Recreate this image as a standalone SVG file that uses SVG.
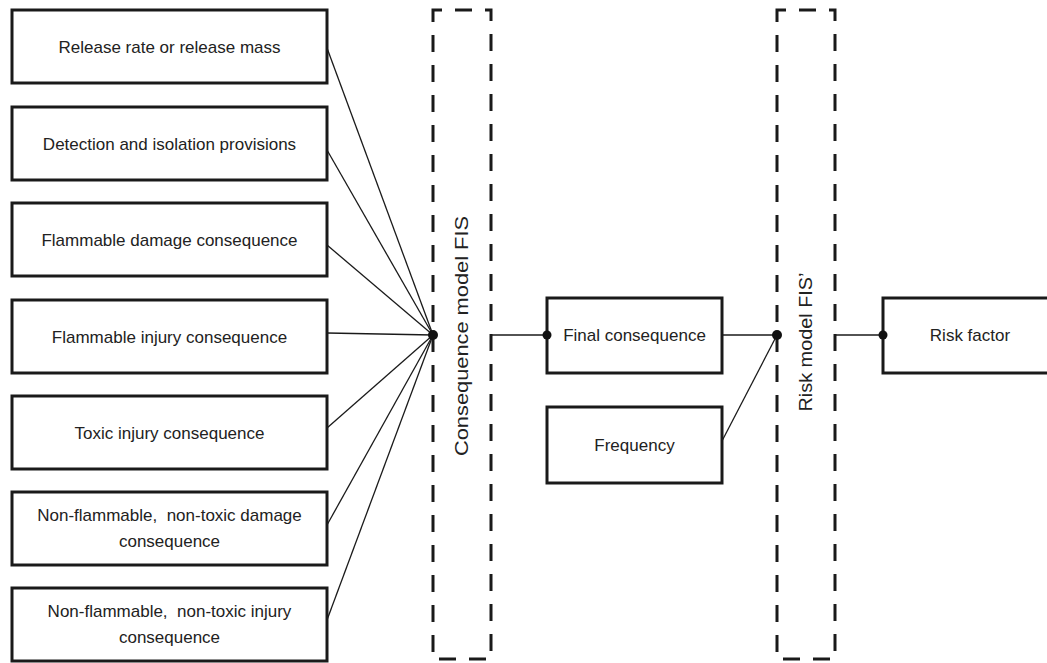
<svg xmlns="http://www.w3.org/2000/svg" width="1047" height="663" viewBox="0 0 1047 663">
  <style>
    .box { fill: #ffffff; stroke: #1a1a1a; stroke-width: 3; }
    .fis { fill: none; stroke: #1a1a1a; stroke-width: 3; stroke-dasharray: 17 13; }
    .lbl { font-family: "Liberation Sans", Arial, sans-serif; font-size: 17px; fill: #222222; text-anchor: middle; white-space: pre; }
    .vlbl { font-family: "Liberation Sans", Arial, sans-serif; font-size: 18px; fill: #222222; text-anchor: middle; }
    .wire { fill: none; stroke: #1a1a1a; stroke-width: 1.3; }
    .dot { fill: #111111; }
  </style>
  <rect width="1047" height="663" fill="#ffffff"/>

  <!-- input factors -->
  <g id="release-rate">
    <rect class="box" x="12" y="10" width="315" height="73"/>
    <text class="lbl" x="169.5" y="53">Release rate or release mass</text>
  </g>
  <g id="detection-isolation">
    <rect class="box" x="12" y="107" width="315" height="73"/>
    <text class="lbl" x="169.5" y="149.5">Detection and isolation provisions</text>
  </g>
  <g id="flammable-damage">
    <rect class="box" x="12" y="203" width="315" height="73"/>
    <text class="lbl" x="169.5" y="245.5">Flammable damage consequence</text>
  </g>
  <g id="flammable-injury">
    <rect class="box" x="12" y="300" width="315" height="73"/>
    <text class="lbl" x="169.5" y="342.5">Flammable injury consequence</text>
  </g>
  <g id="toxic-injury">
    <rect class="box" x="12" y="396" width="315" height="73"/>
    <text class="lbl" x="169.5" y="438.5">Toxic injury consequence</text>
  </g>
  <g id="nonflam-damage">
    <rect class="box" x="12" y="492" width="315" height="73"/>
    <text class="lbl" x="169.5" y="521" xml:space="preserve">Non-flammable,  non-toxic damage</text>
    <text class="lbl" x="169.5" y="547">consequence</text>
  </g>
  <g id="nonflam-injury">
    <rect class="box" x="12" y="588" width="315" height="73"/>
    <text class="lbl" x="169.5" y="617" xml:space="preserve">Non-flammable,  non-toxic injury</text>
    <text class="lbl" x="169.5" y="643">consequence</text>
  </g>

  <!-- consequence model FIS -->
  <g id="consequence-fis">
    <path class="fis" d="M433,18 L433,10 L491,10 L491,659 L433,659 Z"/>
    <text class="vlbl" transform="translate(468,336) rotate(-90)" textLength="240" lengthAdjust="spacingAndGlyphs">Consequence model FIS</text>
  </g>

  <g id="final-consequence">
    <rect class="box" x="547" y="298" width="175" height="75"/>
    <text class="lbl" x="634.5" y="341">Final consequence</text>
  </g>
  <g id="frequency">
    <rect class="box" x="547" y="407" width="175" height="76"/>
    <text class="lbl" x="634.5" y="451">Frequency</text>
  </g>

  <!-- risk model FIS -->
  <g id="risk-fis">
    <path class="fis" d="M777,18 L777,10 L835,10 L835,659 L777,659 Z"/>
    <text class="vlbl" transform="translate(812,342) rotate(-90)" textLength="139" lengthAdjust="spacingAndGlyphs">Risk model FIS’</text>
  </g>

  <g id="risk-factor">
    <rect class="box" x="883" y="298" width="200" height="75"/>
    <text class="lbl" x="970" y="341">Risk factor</text>
  </g>

  <!-- connectors, drawn on top so the junction dots sit over box edges -->
  <g id="connectors">
    <line class="wire" x1="327" y1="48" x2="433" y2="335"/>
    <line class="wire" x1="327" y1="150" x2="433" y2="335"/>
    <line class="wire" x1="327" y1="245" x2="433" y2="335"/>
    <line class="wire" x1="327" y1="333" x2="433" y2="335"/>
    <line class="wire" x1="327" y1="428" x2="433" y2="335"/>
    <line class="wire" x1="327" y1="525" x2="433" y2="335"/>
    <line class="wire" x1="327" y1="620" x2="433" y2="335"/>
    <line class="wire" x1="491" y1="335" x2="547" y2="335"/>
    <line class="wire" x1="722" y1="335" x2="777" y2="335"/>
    <line class="wire" x1="722" y1="441" x2="777" y2="335"/>
    <line class="wire" x1="835" y1="335" x2="883" y2="335"/>
    <circle class="dot" cx="433" cy="335" r="5"/>
    <circle class="dot" cx="547" cy="335" r="4.5"/>
    <circle class="dot" cx="777" cy="335" r="5"/>
    <circle class="dot" cx="883" cy="335" r="4.5"/>
  </g>
</svg>
